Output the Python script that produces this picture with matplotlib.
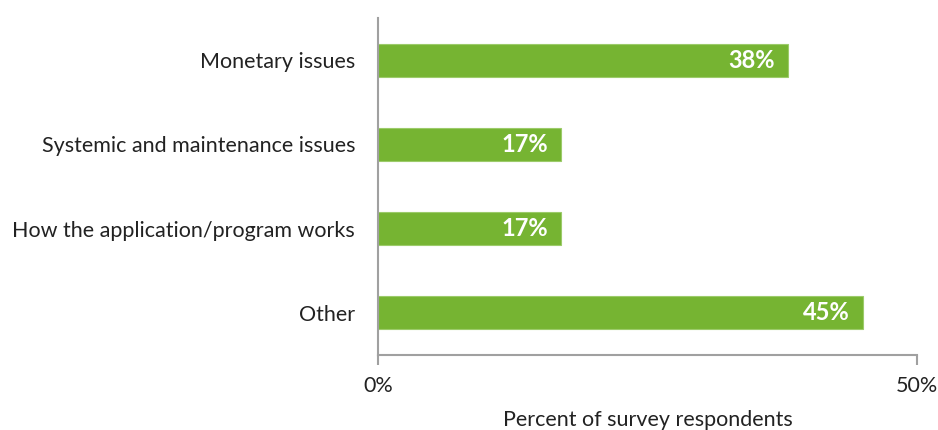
import matplotlib.pyplot as plt

# Survey responses by issue category
categories = ['Monetary issues', 'Systemic and maintenance issues',
              'How the application/program works', 'Other']
percents = [38, 17, 17, 45]

plt.rcParams['font.family'] = ['Lato', 'DejaVu Sans']

fig = plt.figure(figsize=(9.38, 4.30), dpi=100)
ax = fig.add_axes([378 / 938, 1 - 355 / 430, (917 - 378) / 938, (355 - 18) / 430])

pos = list(range(len(categories)))
ax.barh(pos, percents, height=0.39, color='#76B432', edgecolor='#9CCB6A', linewidth=0.8)

for y, v in zip(pos, percents):
    ax.text(v - 1.2, y, f'{v}%', ha='right', va='center', color='white',
            fontsize=17, fontweight='bold')

ax.set_ylim(3.5, -0.5)
ax.set_xlim(0, 50)
ax.set_yticks(pos)
ax.set_yticklabels(categories, fontsize=15.5, color='#222222')
ax.set_xticks([0, 50])
ax.set_xticklabels(['0%', '50%'], fontsize=15.5, color='#222222')
ax.set_xlabel('Percent of survey respondents', fontsize=15.5, color='#222222', labelpad=10)

for side in ['top', 'right']:
    ax.spines[side].set_visible(False)
for side in ['left', 'bottom']:
    ax.spines[side].set_color('#A0A0A0')
    ax.spines[side].set_linewidth(1.5)
ax.tick_params(axis='y', length=0, pad=16.5)
ax.tick_params(axis='x', length=7, width=1.5, color='#A0A0A0', pad=8)

fig.savefig('out.png', dpi=100)
